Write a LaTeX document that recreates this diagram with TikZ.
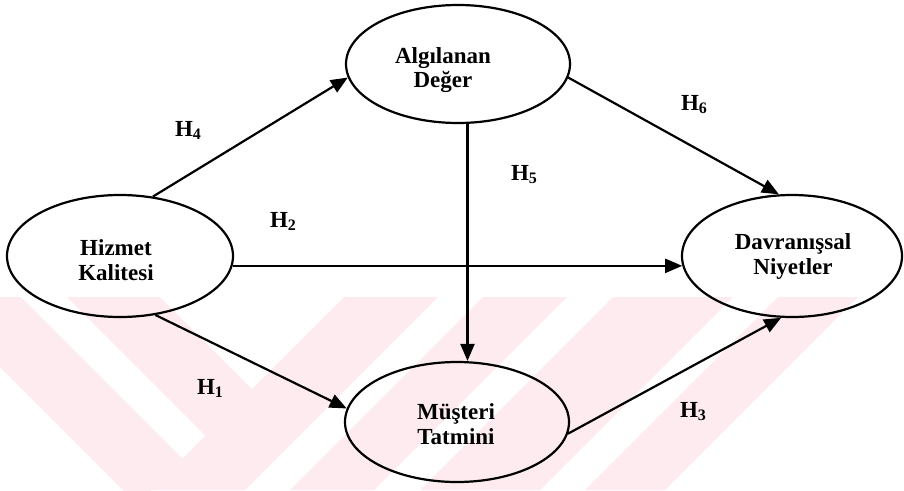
\documentclass[tikz,border=0pt]{standalone}
\usepackage{fontspec}
\setmainfont{Liberation Serif}
\usetikzlibrary{arrows.meta,shapes.geometric}
\definecolor{wmpink}{RGB}{253,235,239}
\newcommand{\hlab}[1]{H\raisebox{-3pt}{\fontsize{16}{16}\selectfont #1}}
\begin{document}
\begin{tikzpicture}[x=1pt,y=-1pt,
  state/.style={draw=black, line width=2.2pt, ellipse, inner sep=0pt},
  caption/.style={font=\fontsize{23}{24.5}\selectfont\bfseries, align=center, inner sep=0pt},
  link/.style={line width=2.2pt, -{Triangle[length=17pt,width=14pt]}},
  hyp/.style={font=\fontsize{23}{24}\selectfont\bfseries, inner sep=0pt}]
\useasboundingbox (0,0) rectangle (904,490);

% faint striped emblem in the lower half
\begin{scope}
  \clip (0,297) rectangle (904,490);
  \fill[wmpink] (-70,297) -- (21,297) -- (182.5,458.5) -- (137,504) -- cycle;
  \fill[wmpink] (67,297) -- (160,297) -- (252,389) -- (205.5,435.5) -- cycle;
  \fill[wmpink] (344,297) -- (438,297) -- (245,490) -- (151,490) -- cycle;
  \fill[wmpink] (483,297) -- (567,297) -- (374,490) -- (290,490) -- cycle;
  \fill[wmpink] (613,297) -- (733,297) -- (540,490) -- (420,490) -- cycle;
  \fill[wmpink] (778,297) -- (858,297) -- (665,490) -- (585,490) -- cycle;
\end{scope}

% constructs
\node[state, minimum width=226pt, minimum height=122pt] (hk) at (120,256) {};
\node[state, minimum width=224pt, minimum height=118pt] (ad) at (458,64) {};
\node[state, minimum width=220pt, minimum height=122pt] (dn) at (792,256) {};
\node[state, minimum width=224pt, minimum height=120pt] (mt) at (457,422) {};

\node[caption] (hkt) at (116,260) {Hizmet\\Kalitesi};
\node[caption] (adt) at (443,70) {Algılanan\\Değer};
\node[caption] (dnt) at (793,256.5) {Davranışsal\\Niyetler};
\node[caption] (mtt) at (456,424) {Müşteri\\Tatmini};

% hypothesised paths
\draw[link] (hk.61) -- (ad.187);
\coordinate (h2s) at (hk.-5.7);
\draw[link] (h2s) -- (h2s -| dn.185.7);
\draw[link] (ad.-81) -- (ad.-81 |- mt.north);
\draw[link] (ad.-7.3) -- (dn.102);
\draw[link] (hk.-59) -- (mt.173);
\draw[link] (mt.-6) -- (dn.-100);

\node[hyp] (h4) at (188,130) {\hlab{4}};
\node[hyp] (h2) at (283,221) {\hlab{2}};
\node[hyp] (h5) at (524,175) {\hlab{5}};
\node[hyp] (h6) at (694,105) {\hlab{6}};
\node[hyp] (h1) at (210,388) {\hlab{1}};
\node[hyp] (h3) at (693,412) {\hlab{3}};
\end{tikzpicture}
\end{document}
